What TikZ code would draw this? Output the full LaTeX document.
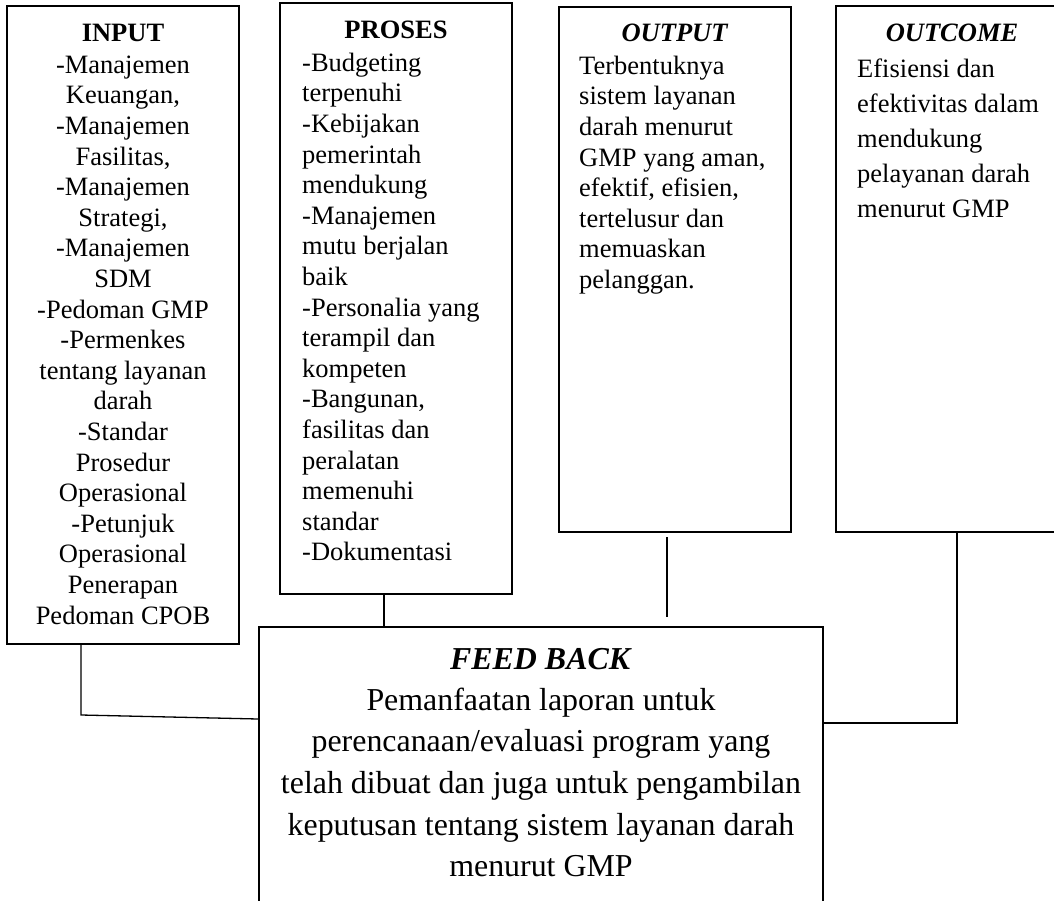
\documentclass[tikz,border=0pt]{standalone}
\usepackage{fontspec}
\setmainfont[Ligatures={TeX,NoCommon}]{Liberation Serif}
\begin{document}
\begin{tikzpicture}[x=1pt,y=-1pt,
  box/.style={draw, line width=1.6pt, rectangle, inner sep=0pt, minimum width=232pt},
  conn/.style={line width=1.3pt},
  titlefont/.style={font=\fontsize{26.5}{30.6}\selectfont, inner sep=0pt, anchor=base},
  bodyfont/.style={font=\fontsize{26.5}{30.6}\selectfont, inner sep=0pt},
  ocfont/.style={font=\fontsize{26.5}{35}\selectfont, inner sep=0pt},
  fbtitle/.style={font=\fontsize{31.9}{41.7}\selectfont, inner sep=0pt, anchor=base},
  fbfont/.style={font=\fontsize{31.9}{41.7}\selectfont, inner sep=0pt}]
\useasboundingbox (0,0) rectangle (1054,901);
\clip (0,0) rectangle (1054,901);
\fill[white] (0,0) rectangle (1054,901);

% boxes
\node[box, minimum height=638pt] (inbox) at (123,325) {};
\node[box, minimum height=591pt] (prbox) at (396,298.5) {};
\node[box, minimum height=525pt] (outbox) at (675,269.5) {};
\node[box, minimum height=526pt] (ocbox) at (952,269) {};
\node[box, minimum width=564pt, minimum height=313pt] (fbbox) at (541,783.5) {};

% INPUT
\node[titlefont] (inT) at (123,42) {\textbf{INPUT}};
\node[bodyfont, align=center, anchor=north] (inB) at (123,51.6) {\strut -Manajemen\\Keuangan,\\-Manajemen\\Fasilitas,\\-Manajemen\\Strategi,\\-Manajemen\\SDM\\-Pedoman GMP\\-Permenkes\\tentang layanan\\darah\\-Standar\\Prosedur\\Operasional\\-Petunjuk\\Operasional\\Penerapan\\Pedoman CPOB};

% PROSES
\node[titlefont] (prT) at (396,39) {\textbf{PROSES}};
\node[bodyfont, align=left, anchor=north west] (prB) at (302,49.6) {\strut -Budgeting\\terpenuhi\\-Kebijakan\\pemerintah\\mendukung\\-Manajemen\\mutu berjalan\\baik\\-Personalia yang\\terampil dan\\kompeten\\-Bangunan,\\fasilitas dan\\peralatan\\memenuhi\\standar\\-Dokumentasi};

% OUTPUT
\node[titlefont] (outT) at (675,42) {\textbf{\textit{OUTPUT}}};
\node[bodyfont, align=left, anchor=north west] (outB) at (579,52.6) {\strut Terbentuknya\\sistem layanan\\darah menurut\\GMP yang aman,\\efektif, efisien,\\tertelusur dan\\memuaskan\\pelanggan.};

% OUTCOME
\node[titlefont] (ocT) at (952,42) {\textbf{\textit{OUTCOME}}};
\node[ocfont, align=left, anchor=north west] (ocB) at (857,52.5) {\strut Efisiensi dan\\efektivitas dalam\\mendukung\\pelayanan darah\\menurut GMP};

% FEED BACK
\node[fbtitle] (fbT) at (541,669) {\textbf{\textit{FEED BACK}}};
\node[fbfont, align=center, anchor=north] (fbB) at (541,680.8) {\strut Pemanfaatan laporan untuk\\perencanaan/evaluasi program yang\\telah dibuat dan juga untuk pengambilan\\keputusan tentang sistem layanan darah\\menurut GMP};

% connectors
\coordinate (c1) at (81,715);
\coordinate (c1e) at (0,719);
\draw[conn] (inbox.south -| c1) -- (c1) -- (fbbox.west |- c1e);
\coordinate (c2) at (384,0);
\draw[conn] (prbox.south -| c2) -- (fbbox.north -| c2);
\coordinate (o1) at (667,537);
\coordinate (o2) at (667,617);
\draw[conn] (o1) -- (o2);
\coordinate (c4) at (957,723);
\draw[conn] (ocbox.south -| c4) -- (c4) -- (fbbox.east |- c4);
\end{tikzpicture}
\end{document}
